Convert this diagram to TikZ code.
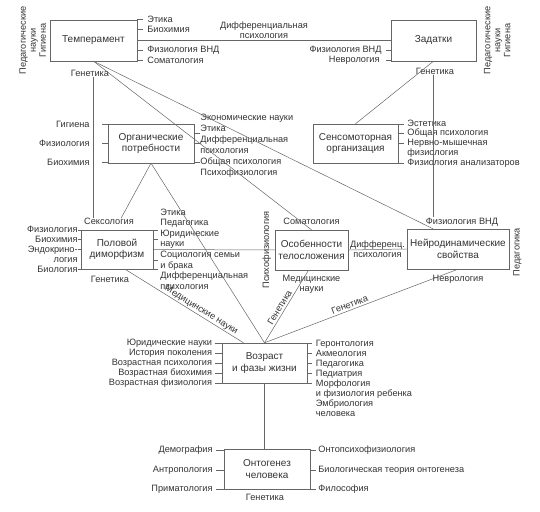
\documentclass[tikz,border=0pt]{standalone}
\usepackage{fontspec}
\setmainfont{Liberation Sans}
\usepackage{tikz}
\usetikzlibrary{shapes.geometric, arrows}
\newcommand{\lblfont}{\fontsize{9.2}{10}\selectfont}
\newcommand{\boxfont}{\fontsize{10}{11.5}\selectfont}
\tikzstyle{box} = [rectangle,
minimum height=40pt,
text centered,
align=center,
draw=black!60,
text=black!80,
font=\boxfont]
\tikzstyle{lbl} = [inner sep=0pt, text=black!80, font=\lblfont]
\tikzstyle{lblr} = [lbl, anchor=west, align=left]
\tikzstyle{lbll} = [lbl, anchor=east, align=right]
\tikzstyle{rot} = [lbl, rotate=90, align=center]
\tikzstyle{conn} = [draw=black!60, line width=0.5pt]
\tikzstyle{tk} = [conn]

\begin{document}
\begin{tikzpicture}[x=1pt, y=1pt, node distance=106pt]
\useasboundingbox (0,0) rectangle (540,511);
\node (temp) [box, minimum width=87pt, minimum height=41pt] at (93.5,470.5) {Темперамент};
\node (zad) [box, minimum width=85pt, minimum height=41pt, right of=temp, xshift=234pt] {Задатки};
\node (org) [box, minimum width=86pt, minimum height=39pt, below of=temp, xshift=57.5pt, yshift=3pt] {Органические\\потребности};
\node (sens) [box, minimum width=85pt, minimum height=39pt, below of=zad, xshift=-78pt, yshift=3pt] {Сенсомоторная\\организация};
\node (pol) [box, minimum width=72pt, minimum height=39pt, below of=org, xshift=-34pt] {Половой\\диморфизм};
\node (osob) [box, minimum width=71pt, below of=sens, xshift=-44pt, yshift=-0.5pt] {Особенности\\телосложения};
\node (neiro) [box, minimum width=98pt, below of=sens, xshift=102.5pt, yshift=0.5pt] {Нейродинамические\\свойства};
\node (voz) [box, minimum width=85pt, below of=osob, xshift=-47pt, yshift=-7pt] {Возраст\\и фазы жизни};
\node (ont) [box, minimum width=86pt, below of=voz, xshift=2.5pt] {Онтогенез\\человека};

\node (tEt) [lblr] at ([xshift=10pt, yshift=21.5pt]temp.east) {Этика};
\node (tBio) [lblr] at ([xshift=10pt, yshift=11.5pt]temp.east) {Биохимия};
\node (tFiz) [lblr] at ([xshift=10pt, yshift=-9.5pt]temp.east) {Физиология ВНД};
\node (tSom) [lblr] at ([xshift=10pt, yshift=-19.5pt]temp.east) {Соматология};
\node (rT) [rot] at ([xshift=-17pt]temp.west) {Педагогические\\науки\\Гигиена};
\node (gT) [lbl] at ([xshift=-3.5pt, yshift=-12pt]temp.south) {Генетика};

\node (zFiz) [lbll] at ([xshift=-9pt, yshift=-9.5pt]zad.west) {Физиология ВНД};
\node (zNev) [lbll] at ([xshift=-11pt, yshift=-19.5pt]zad.west) {Неврология};
\node (rZ) [rot] at ([xshift=21pt]zad.east) {Педагогические\\науки\\Гигиена};
\node (gZ) [lbl] at ([xshift=1.5pt, yshift=-10pt]zad.south) {Генетика};

\node (oGig) [lbll] at ([xshift=-18pt, yshift=19.5pt]org.west) {Гигиена};
\node (oFiz) [lbll] at ([xshift=-18pt, yshift=0.5pt]org.west) {Физиология};
\node (oBio) [lbll] at ([xshift=-18pt, yshift=-18.5pt]org.west) {Биохимия};
\node (oR) [lblr, font=\fontsize{9.2}{11}\selectfont] at ([xshift=6pt, yshift=-2pt]org.east) {Экономические науки\\Этика\\Дифференциальная\\психология\\Общая психология\\Психофизиология};

\node (sR) [lblr, font=\fontsize{9.2}{9.8}\selectfont] at ([xshift=9pt]sens.east) {Эстетика\\Общая психология\\Нервно-мышечная\\физиология\\Физиология анализаторов};

\node (seks) [lbl] at ([xshift=-8pt, yshift=8pt]pol.north) {Сексология};
\node (gP) [lbl] at ([xshift=-7pt, yshift=-10pt]pol.south) {Генетика};
\node (pL) [lbll] at ([xshift=-3pt, yshift=0.5pt]pol.west) {Физиология\\Биохимия\\Эндокрино-\\логия\\Биология};
\node (pR) [lblr, font=\fontsize{9.2}{10.6}\selectfont] at ([xshift=7pt, yshift=0.5pt]pol.east) {Этика\\Педагогика\\Юридические\\науки\\Социология семьи\\и брака\\Дифференциальная\\психология};

\node (som) [lbl] at ([yshift=8pt]osob.north) {Соматология};
\node (med) [lbl, align=center] at ([yshift=-14pt]osob.south) {Медицинские\\науки};
\node (psf) [rot] at ([xshift=-8pt]osob.west) {Психофизиология};

\node (nFiz) [lbl] at ([xshift=4pt, yshift=7pt]neiro.north) {Физиология ВНД};
\node (nNev) [lbl] at ([yshift=-10pt]neiro.south) {Неврология};
\node (nPed) [rot] at ([xshift=8pt, yshift=-3pt]neiro.east) {Педагогика};

\node (vL) [lbll] at ([xshift=-9.5pt]voz.west) {Юридические науки\\История поколения\\Возрастная психология\\Возрастная биохимия\\Возрастная физиология};
\node (vR) [lblr] at ([xshift=8.5pt, yshift=-15pt]voz.east) {Геронтология\\Акмеология\\Педагогика\\Педиатрия\\Морфология\\и физиология ребенка\\Эмбриология\\человека};

\node (oDem) [lbll] at ([xshift=-11pt, yshift=19pt]ont.west) {Демография};
\node (oAnt) [lbll] at ([xshift=-11pt, yshift=-1pt]ont.west) {Антропология};
\node (oPri) [lbll] at ([xshift=-11pt, yshift=-20pt]ont.west) {Приматология};
\node (oOps) [lblr] at ([xshift=8pt, yshift=19pt]ont.east) {Онтопсихофизиология};
\node (oBt) [lblr] at ([xshift=8pt, yshift=-1pt]ont.east) {Биологическая теория онтогенеза};
\node (oFil) [lblr] at ([xshift=8pt, yshift=-20pt]ont.east) {Философия};
\node (gO) [lbl] at ([xshift=-2pt, yshift=-8pt]ont.south) {Генетика};

\draw [conn] (temp.east) -- node[lbl, above, inner sep=2pt, align=center] {Дифференциальная\\психология} (zad.west);
\draw [conn] (temp.south |- gT.south) -- (temp.south |- seks.north);
\draw [conn] (temp.south) -- (osob.north);
\draw [conn] (temp.south) -- ([xshift=-25pt]neiro.north);
\draw [conn] (zad.south) -- (sens.north);
\draw [conn] (zad.south |- gZ.south) -- (zad.south |- nFiz.north);
\draw [conn] (org.south) -- ([xshift=12pt]seks.north);
\draw [conn] (org.south) -- (voz.north);
\draw [conn] ([xshift=8pt]pol.south) -- node[lbl, sloped, above, inner sep=1pt, pos=0.62] {Медицинские науки} ([xshift=-21pt]voz.north);
\draw [conn] (voz.north) -- node[lbl, sloped, above, inner sep=2pt, pos=0.45] {Генетика} ([xshift=-3pt]osob.south);
\draw [conn] (voz.north) -- node[lbl, sloped, above, inner sep=2pt, pos=0.45] {Генетика} (neiro.south);
\draw [conn] (pol.east) -- (osob.west);
\draw [conn] (osob.east) -- node[lbl, align=center] {Дифференц.\\психология} (neiro.west);
\draw [conn] (voz.south) -- (voz.south |- ont.north);

\foreach \nm in {tEt,tBio,tFiz,tSom} \draw [tk] (\nm.west -| temp.east) -- ++(6,0);
\foreach \nm in {zFiz,zNev} \draw [tk] (\nm.east -| zad.west) -- ++(-5,0);
\foreach \nm in {oGig,oFiz,oBio} \draw [tk] (\nm.east -| org.west) -- ++(-6,0);
\foreach \y in {10.5,0.5,-18.5} \draw [tk] ([yshift=\y pt]org.east) -- ++(6,0);
\foreach \y in {19.5,10.5,0.5,-19.5} \draw [tk] ([yshift=\y pt]sens.east) -- ++(6,0);
\foreach \y in {19.5,10.5,0.5,-19.5} \draw [tk] ([yshift=\y pt]pol.west) -- ++(-3,0);
\foreach \y in {19.5,10.5,-10.5,-19.5} \draw [tk] ([yshift=\y pt]pol.east) -- ++(5,0);
\foreach \y in {20,10,0,-10,-20} \draw [tk] ([yshift=\y pt]voz.west) -- ++(-7,0);
\foreach \y in {20,10,0,-10,-20} \draw [tk] ([yshift=\y pt]voz.east) -- ++(5,0);
\foreach \nm in {oDem,oAnt,oPri} \draw [tk] (\nm.east -| ont.west) -- ++(-8,0);
\foreach \nm in {oOps,oBt,oFil} \draw [tk] (\nm.west -| ont.east) -- ++(6,0);
\end{tikzpicture}
\end{document}
